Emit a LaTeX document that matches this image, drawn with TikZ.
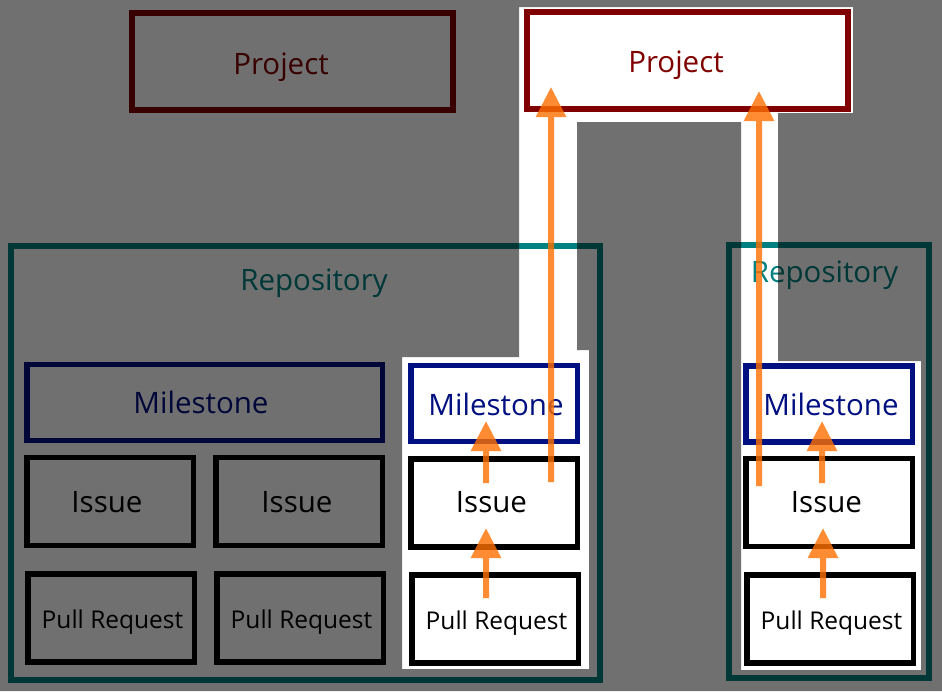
\documentclass[tikz,border=0pt]{standalone}
\usepackage{fontspec}
\setmainfont{Open Sans}
\usetikzlibrary{arrows.meta}
\definecolor{projred}{HTML}{800000}
\definecolor{repoteal}{HTML}{008080}
\definecolor{msnavy}{HTML}{001080}
\definecolor{arrorange}{RGB}{255,112,0}
\tikzset{
  frame/.style={draw, inner sep=0pt, fill=white},
  projbox/.style={frame, draw=projred, line width=6pt, minimum width=321pt, minimum height=97pt},
  repobox/.style={frame, draw=repoteal, line width=6pt},
  msbox/.style={frame, draw=msnavy, line width=5.5pt, minimum width=166.5pt, minimum height=76pt},
  itembox/.style={frame, draw=black, line width=5.5pt, minimum width=166.5pt, minimum height=88pt},
  lbl/.style={anchor=base, inner sep=0pt, font=\fontsize{29.5}{35}\selectfont},
  smalllbl/.style={lbl, font=\fontsize{24.5}{30}\selectfont},
  link/.style={draw=arrorange, line width=6pt,
    -{Triangle[length=30pt, width=29pt]}},
}
\begin{document}
\begin{tikzpicture}[x=1pt, y=-1pt]
\useasboundingbox (0,0) rectangle (942,691);
\fill[white] (0,0) rectangle (942,691);

% projects
\node[projbox] (projL) at (292.5,61.5) {};
\node[projbox] (projR) at (687.5,60.5) {};
\node[lbl, text=projred] (projLt) at (281,74) {Project};
\node[lbl, text=projred] (projRt) at (676,72) {Project};

% repositories
\node[repobox, minimum width=589pt, minimum height=434pt] (repoL) at (305.5,463) {};
\node[repobox, minimum width=200pt, minimum height=433pt] (repoR) at (829,461.5) {};
\node[lbl, text=repoteal] (repoLt) at (314,290) {Repository};
\node[lbl, text=repoteal] (repoRt) at (824.5,282) {Repository};

% left repository content
\node[msbox, minimum width=355.5pt] (msL) at (204.5,402.5) {};
\node[lbl, text=msnavy] (msLt) at (201,413) {Milestone};
\node[itembox] (issL1) at (110,501.5) {};
\node[itembox] (issL2) at (299,501.5) {};
\node[lbl] (issL1t) at (107,512) {Issue};
\node[lbl] (issL2t) at (297,512) {Issue};
\node[itembox] (prL1) at (111,618) {};
\node[itembox] (prL2) at (300,618) {};
\node[smalllbl] (prL1t) at (112.5,628) {Pull Request};
\node[smalllbl] (prL2t) at (301.5,628) {Pull Request};

% middle column
\node[msbox] (msM) at (494,403.5) {};
\node[lbl, text=msnavy] (msMt) at (496,415) {Milestone};
\node[itembox] (issM) at (494,503) {};
\node[lbl] (issMt) at (491.5,512) {Issue};
\node[itembox] (prM) at (495,619) {};
\node[smalllbl] (prMt) at (496.5,629) {Pull Request};

% right column
\node[msbox] (msR) at (829,404) {};
\node[lbl, text=msnavy] (msRt) at (831,415) {Milestone};
\node[itembox] (issR) at (829,502.5) {};
\node[lbl] (issRt) at (826.5,512) {Issue};
\node[itembox] (prR) at (830,619) {};
\node[smalllbl] (prRt) at (831.5,629) {Pull Request};

% dimming overlay with highlighted cut-out
\fill[black, fill opacity=0.56, even odd rule]
  (0,0) rectangle (942,691)
  (519,7) -- (853,7) -- (853,113) -- (778,113) -- (778,361) -- (921,361)
  -- (921,670) -- (741,670) -- (741,122) -- (577,122) -- (577,350)
  -- (589,350) -- (589,669) -- (402,669) -- (402,357) -- (519,357) -- cycle;

% connector ends
\coordinate (a1s) at (551,482);  \coordinate (a1e) at (551,87);
\coordinate (a2s) at (759,486);  \coordinate (a2e) at (759,91);
\coordinate (a3s) at (486,483);  \coordinate (a3e) at (486,421);
\coordinate (a4s) at (486,598);  \coordinate (a4e) at (486,528);
\coordinate (a5s) at (822,483);  \coordinate (a5e) at (822,421);
\coordinate (a6s) at (823,598);  \coordinate (a6e) at (823,528);

\begin{scope}[transparency group, opacity=0.8]
\draw[link] (a1s) -- (a1e);
\end{scope}
\begin{scope}[transparency group, opacity=0.8]
\draw[link] (a2s) -- (a2e);
\end{scope}
\begin{scope}[transparency group, opacity=0.8]
\draw[link] (a3s) -- (a3e);
\end{scope}
\begin{scope}[transparency group, opacity=0.8]
\draw[link] (a4s) -- (a4e);
\end{scope}
\begin{scope}[transparency group, opacity=0.8]
\draw[link] (a5s) -- (a5e);
\end{scope}
\begin{scope}[transparency group, opacity=0.8]
\draw[link] (a6s) -- (a6e);
\end{scope}
\end{tikzpicture}
\end{document}
